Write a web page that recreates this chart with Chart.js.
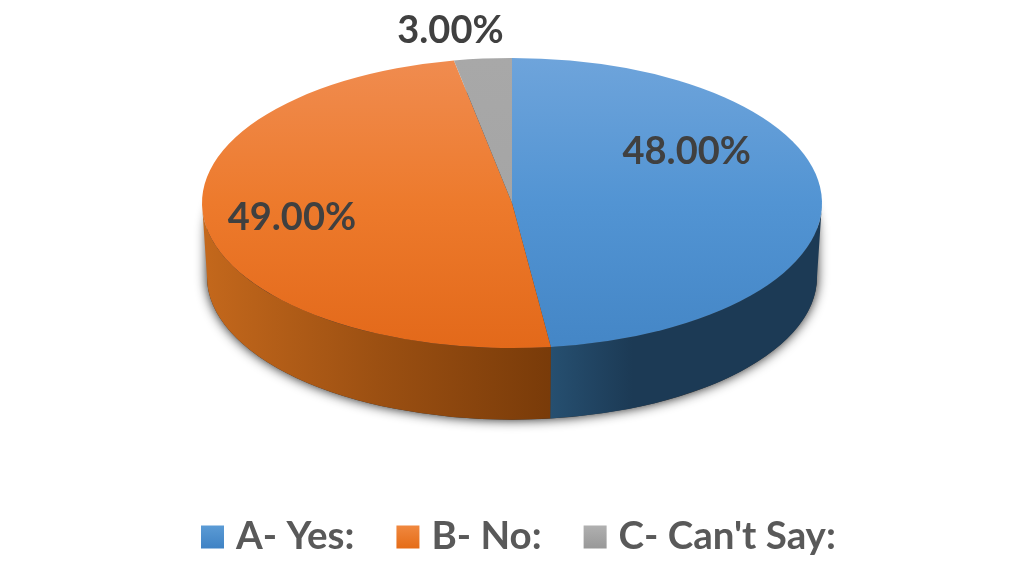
<!DOCTYPE html>
<html>
<head>
<meta charset="utf-8">
<title>Pie</title>
<script src="https://cdn.jsdelivr.net/npm/chart.js@4/dist/chart.umd.min.js"></script>
<style>
  html, body { margin: 0; padding: 0; background: #fff; }
  canvas { display: block; }
</style>
</head>
<body>
<canvas id="pie" width="1024" height="576"></canvas>
<script>
const categories = ["A- Yes:", "B- No:", "C- Can't Say:"];
const shares = [48, 49, 3];

// look of the tilted disc
const FONT = '"Lato", "Open Sans", sans-serif';
const RADIUS = 310;
const TILT = 0.468;
const TOP_Y = 203;
const WALL_DROP = 74;
const WALL_RADIUS = 305;

const topColors = [["#6ea4db", "#5294d3", "#4486c6"], ["#f08c50", "#ed7a2c", "#e3691a"], ["#a8a8a8", "#a5a5a5", "#a5a5a5"]];
// side wall colours, from the left end of the slice to the right end
const wallColors = [["#264f70", "#1c3a55", "#1c3a55"], ["#c4681c", "#9c5012", "#793b09"], ["#6b6b6b", "#606060", "#5c5c5c"]];
const legendColors = [["#5b9bd5", "#3f82c4"], ["#f0883f", "#e56c17"], ["#b0b0b0", "#989898"]];
const labelOffsets = [[20, -47], [-67, 3], [-47, -100]];

const canvas = document.getElementById("pie");
const g = canvas.getContext("2d");

const ramp = (x0, y0, x1, y1, stops) => {
    const grad = g.createLinearGradient(x0, y0, x1, y1);
    stops.forEach((s, i) => grad.addColorStop(i / (stops.length - 1), s));
    return grad;
};

const tiltPlugin = {
    id: "tilt",
    beforeDatasetsDraw(chart) {
        const ctx = chart.ctx;
        const arcs = chart.getDatasetMeta(0).data;
        const cx = arcs[0].x;
        const wallY = TOP_Y + WALL_DROP;

        // soft shadow round the base
        ctx.save();
        ctx.shadowColor = "rgba(0,0,0,0.9)";
        ctx.shadowBlur = 12;
        ctx.fillStyle = "#333";
        ctx.beginPath();
        ctx.ellipse(cx, wallY, WALL_RADIUS, WALL_RADIUS * TILT, 0, 0, Math.PI);
        ctx.ellipse(cx, TOP_Y + 30, WALL_RADIUS, WALL_RADIUS * TILT, 0, Math.PI, 0);
        ctx.fill();
        ctx.restore();

        // the side wall, only the front half of the rim shows
        arcs.forEach((arc, i) => {
            const from = Math.max(arc.startAngle, 0);
            const to = Math.min(arc.endAngle, Math.PI);
            if (to <= from) return;
            const left = cx + RADIUS * Math.cos(to);
            const right = cx + RADIUS * Math.cos(from);
            ctx.fillStyle = ramp(left, 0, i === 0 ? left + (right - left) * 0.6 : right, 0, wallColors[i]);
            ctx.beginPath();
            ctx.ellipse(cx, TOP_Y, RADIUS, RADIUS * TILT, 0, from, to);
            ctx.ellipse(cx, wallY, WALL_RADIUS, WALL_RADIUS * TILT, 0, to, from, true);
            ctx.closePath();
            ctx.fill();
        });

        // squash the slices into the top ellipse
        ctx.save();
        ctx.translate(cx, TOP_Y);
        ctx.scale(1, TILT);
        ctx.translate(-cx, -arcs[0].y);
    },
    afterDatasetsDraw(chart) {
        const ctx = chart.ctx;
        ctx.restore();

        const arcs = chart.getDatasetMeta(0).data;
        ctx.save();
        ctx.font = "bold 38px " + FONT;
        ctx.fillStyle = "#404040";
        ctx.textAlign = "center";
        ctx.textBaseline = "middle";
        arcs.forEach((arc, i) => {
            const mid = arc.getCenterPoint();
            const x = mid.x + labelOffsets[i][0];
            const y = TOP_Y + (mid.y - arc.y) * TILT + labelOffsets[i][1];
            ctx.fillText(shares[i].toFixed(2) + "%", x, y);
        });
        ctx.restore();
    },
    afterDraw(chart) {
        const ctx = chart.ctx;
        const boxSize = 23;
        const boxGap = 12;
        const itemGap = 42;
        const midY = 537;
        ctx.save();
        ctx.font = "bold 38.5px " + FONT;
        ctx.textBaseline = "middle";
        ctx.textAlign = "left";
        let x = 201;
        categories.forEach((c, i) => {
            ctx.fillStyle = ramp(0, midY - boxSize / 2, 0, midY + boxSize / 2, legendColors[i]);
            ctx.fillRect(x, midY - boxSize / 2, boxSize, boxSize);
            ctx.fillStyle = "#595959";
            ctx.fillText(c, x + boxSize + boxGap, midY);
            x += boxSize + boxGap + ctx.measureText(c).width + itemGap;
        });
        ctx.restore();
    }
};

new Chart(canvas, {
    type: "pie",
    data: {
        labels: categories,
        datasets: [{
            data: shares,
            clip: false,
            borderWidth: 0,
            backgroundColor: c => ramp(0, 288 - RADIUS, 0, 288 + RADIUS, topColors[c.dataIndex % 3]),
        }]
    },
    options: {
        responsive: false,
        devicePixelRatio: 1,
        animation: false,
        radius: RADIUS,
        events: [],
        plugins: { legend: { display: false }, tooltip: { enabled: false } },
    },
    plugins: [tiltPlugin],
});
</script>
</body>
</html>
